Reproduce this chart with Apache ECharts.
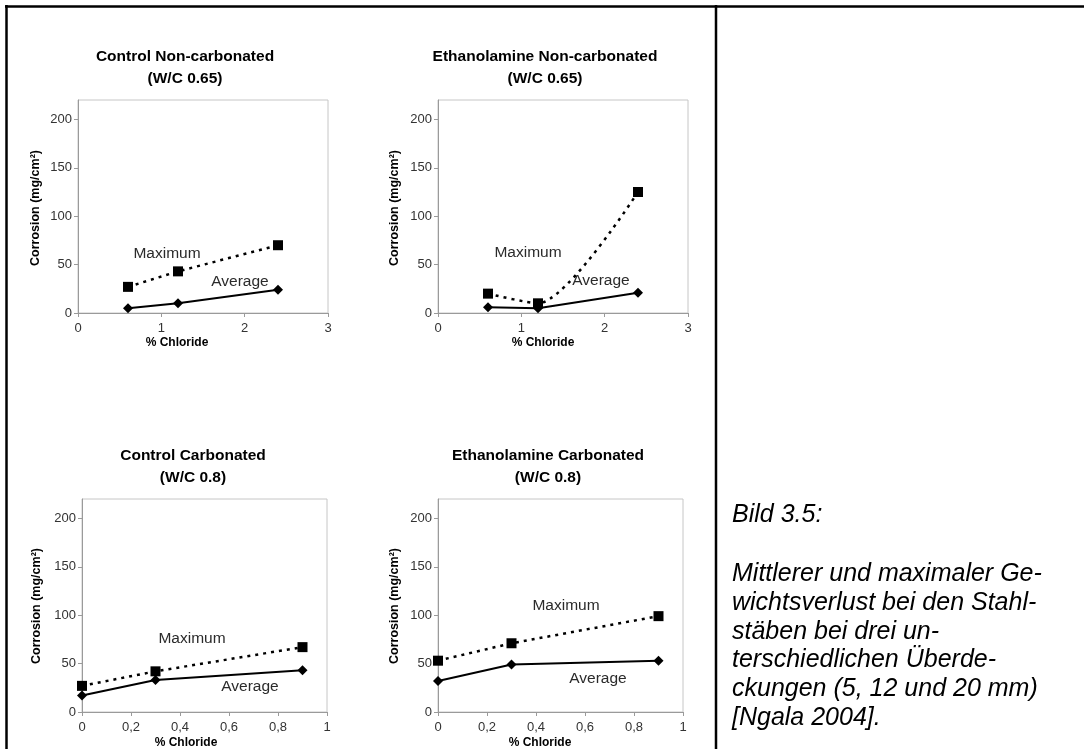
<!DOCTYPE html>
<html>
<head>
<meta charset="utf-8">
<script src="https://cdn.jsdelivr.net/npm/echarts@6/dist/echarts.min.js"></script>
<style>
  html, body { margin: 0; padding: 0; background: #fff; }
  #chart { width: 1086px; height: 749px; }
</style>
</head>
<body>
<div id="chart"></div>
<script>
// % chloride levels of the two specimen series
const chlorideNonCarbonated = [0.6, 1.2, 2.4];
const chlorideCarbonated = [0, 0.3, 0.9];

// Corrosion (mg/cm²), maximum and average per panel
const controlNonCarbMax = [27, 43, 70];
const controlNonCarbAvg = [5, 10, 24];
const ethanolNonCarbMax = [20, 10, 125];
const ethanolNonCarbAvg = [6, 5, 21];
const controlCarbMax = [27, 42, 67];
const controlCarbAvg = [17, 33, 43];
const ethanolCarbMax = [53, 71, 99];
const ethanolCarbAvg = [32, 49, 53];

// Tick labels
const yTickValues = [0, 50, 100, 150, 200];
const xTicksNonCarb = ['0', '1', '2', '3'];
const xTicksCarb = ['0', '0,2', '0,4', '0,6', '0,8', '1'];

// Texts
const panelTitles = [
  ['Control Non-carbonated', '(W/C 0.65)'],
  ['Ethanolamine Non-carbonated', '(W/C 0.65)'],
  ['Control Carbonated', '(W/C 0.8)'],
  ['Ethanolamine Carbonated', '(W/C 0.8)']
];
const yAxisName = 'Corrosion (mg/cm²)';
const xAxisName = '% Chloride';
const seriesNames = ['Maximum', 'Average'];
const captionHead = 'Bild 3.5:';
const captionLines = [
  'Mittlerer und maximaler Ge-',
  'wichtsverlust bei den Stahl-',
  'stäben bei drei un-',
  'terschiedlichen Überde-',
  'ckungen (5, 12 und 20 mm)',
  '[Ngala 2004].'
];

// Panel layout (pixels) and per-panel data binding
const panels = [
  { x: chlorideNonCarbonated, max: controlNonCarbMax, avg: controlNonCarbAvg, ticks: xTicksNonCarb,
    xMax: 3, xStep: 1, smoothMax: false,
    grid: { left: 78, top: 100, width: 250, height: 213 },
    titleX: 185, titleY: [57, 79], yNameAt: [36, 208], xNameAt: [177, 343],
    maxLabelAt: [167, 254], avgLabelAt: [240, 282] },
  { x: chlorideNonCarbonated, max: ethanolNonCarbMax, avg: ethanolNonCarbAvg, ticks: xTicksNonCarb,
    xMax: 3, xStep: 1, smoothMax: 0.25,
    grid: { left: 438, top: 100, width: 250, height: 213 },
    titleX: 545, titleY: [57, 79], yNameAt: [395, 208], xNameAt: [543, 343],
    maxLabelAt: [528, 253], avgLabelAt: [601, 281] },
  { x: chlorideCarbonated, max: controlCarbMax, avg: controlCarbAvg, ticks: xTicksCarb,
    xMax: 1, xStep: 0.2, smoothMax: false,
    grid: { left: 82, top: 499, width: 245, height: 213 },
    titleX: 193, titleY: [456, 477.5], yNameAt: [37, 606], xNameAt: [186, 743],
    maxLabelAt: [192, 639], avgLabelAt: [250, 687] },
  { x: chlorideCarbonated, max: ethanolCarbMax, avg: ethanolCarbAvg, ticks: xTicksCarb,
    xMax: 1, xStep: 0.2, smoothMax: false,
    grid: { left: 438, top: 499, width: 245, height: 213 },
    titleX: 548, titleY: [456, 477.5], yNameAt: [395, 606], xNameAt: [540, 743],
    maxLabelAt: [566, 606], avgLabelAt: [598, 679] }
];

const FONT = '"Liberation Sans", Arial, sans-serif';
const AXIS_GREY = '#9a9a9a';
const BOX_GREY = '#c6c6c6';

const grids = [], xAxes = [], yAxes = [], series = [], graphics = [];

panels.forEach((p, i) => {
  grids.push(Object.assign({ show: true, borderColor: BOX_GREY, borderWidth: 1, backgroundColor: 'transparent' }, p.grid));

  xAxes.push({
    type: 'value', gridIndex: i, min: 0, max: p.xMax, interval: p.xStep,
    axisLine: { show: true, lineStyle: { color: AXIS_GREY, width: 1 } },
    axisTick: { show: true, length: 4, lineStyle: { color: AXIS_GREY } },
    splitLine: { show: false },
    axisLabel: {
      color: '#333', fontFamily: FONT, fontSize: 13, margin: 9,
      formatter: v => p.ticks[Math.round(v / p.xStep)]
    }
  });

  yAxes.push({
    type: 'value', gridIndex: i, min: 0, max: 220, interval: 50,
    axisLine: { show: true, lineStyle: { color: AXIS_GREY, width: 1 } },
    axisTick: { show: true, length: 4, customValues: yTickValues, lineStyle: { color: AXIS_GREY } },
    splitLine: { show: false },
    axisLabel: { color: '#333', fontFamily: FONT, fontSize: 13, margin: 6, customValues: yTickValues }
  });

  series.push({
    name: seriesNames[0], type: 'line', xAxisIndex: i, yAxisIndex: i,
    data: p.x.map((v, k) => [v, p.max[k]]),
    smooth: p.smoothMax,
    symbol: 'rect', symbolSize: 10,
    itemStyle: { color: '#000' },
    lineStyle: { color: '#000', width: 2.5, type: [3, 5] },
    z: 3
  });
  series.push({
    name: seriesNames[1], type: 'line', xAxisIndex: i, yAxisIndex: i,
    data: p.x.map((v, k) => [v, p.avg[k]]),
    symbol: 'diamond', symbolSize: 10,
    itemStyle: { color: '#000' },
    lineStyle: { color: '#000', width: 2 },
    z: 4
  });

  // panel title (two lines)
  p.titleY.forEach((ty, k) => graphics.push({
    type: 'text', x: p.titleX, y: ty,
    style: { text: panelTitles[i][k], fontFamily: FONT, fontWeight: 'bold', fontSize: 15.5,
             fill: '#000', align: 'center', verticalAlign: 'middle' }
  }));
  // axis names
  graphics.push({
    type: 'text', x: p.yNameAt[0], y: p.yNameAt[1], rotation: Math.PI / 2,
    style: { text: yAxisName, fontFamily: FONT, fontWeight: 'bold', fontSize: 12.5,
             fill: '#000', align: 'center', verticalAlign: 'middle' }
  });
  graphics.push({
    type: 'text', x: p.xNameAt[0], y: p.xNameAt[1],
    style: { text: xAxisName, fontFamily: FONT, fontWeight: 'bold', fontSize: 12,
             fill: '#000', align: 'center', verticalAlign: 'middle' }
  });
  // series annotations
  graphics.push({
    type: 'text', x: p.maxLabelAt[0], y: p.maxLabelAt[1],
    style: { text: seriesNames[0], fontFamily: FONT, fontSize: 15.5,
             fill: '#2b2b2b', align: 'center', verticalAlign: 'middle' }
  });
  graphics.push({
    type: 'text', x: p.avgLabelAt[0], y: p.avgLabelAt[1],
    style: { text: seriesNames[1], fontFamily: FONT, fontSize: 15.5,
             fill: '#2b2b2b', align: 'center', verticalAlign: 'middle' }
  });
});

// Table frame around the figure
[
  { x1: 5, y1: 6.5, x2: 1084, y2: 6.5 },
  { x1: 6.5, y1: 5, x2: 6.5, y2: 749 },
  { x1: 716, y1: 5, x2: 716, y2: 749 }
].forEach(s => graphics.push({ type: 'line', shape: s, style: { stroke: '#000', lineWidth: 2.5 } }));

// Caption
graphics.push({
  type: 'text', x: 732, y: 515,
  style: { text: captionHead, fontFamily: FONT, fontStyle: 'italic', fontSize: 25,
           fill: '#000', align: 'left', verticalAlign: 'middle' }
});
captionLines.forEach((t, k) => graphics.push({
  type: 'text', x: 732, y: 574 + k * 28.8,
  style: { text: t, fontFamily: FONT, fontStyle: 'italic', fontSize: 25,
           fill: '#000', align: 'left', verticalAlign: 'middle' }
}));

const chart = echarts.init(document.getElementById('chart'), null, { renderer: 'canvas' });
chart.setOption({
  backgroundColor: '#fff',
  animation: false,
  grid: grids,
  xAxis: xAxes,
  yAxis: yAxes,
  series: series,
  graphic: graphics
});
</script>
</body>
</html>
